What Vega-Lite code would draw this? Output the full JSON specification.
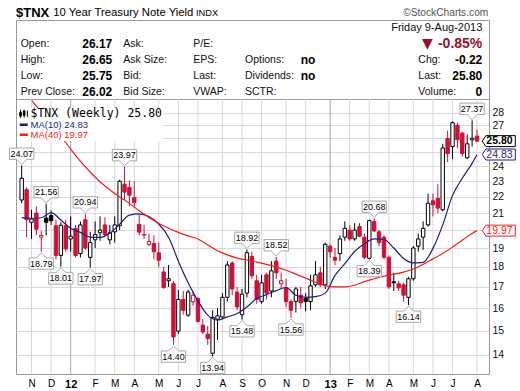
{
"$schema": "https://vega.github.io/schema/vega-lite/v6.json",
"width": 473, "height": 354,
"autosize": {"type": "none"},
"padding": {"left": 16, "top": 20, "right": 31, "bottom": 17},
"background": "white",
"config": {"view": {"stroke": "#9a9a9a", "strokeWidth": 1}, "font": "Liberation Sans"},
"datasets": {
"ohlc": [
{"d":"2011-10-24","o":21.8,"h":24.07,"l":21.6,"c":23.2},
{"d":"2011-10-31","o":22.45,"h":22.6,"l":19.6,"c":20.6},
{"d":"2011-11-07","o":20.45,"h":21.2,"l":19.5,"c":20.65},
{"d":"2011-11-14","o":21.0,"h":21.4,"l":19.7,"c":20.05},
{"d":"2011-11-21","o":19.6,"h":19.95,"l":18.79,"c":19.7},
{"d":"2011-11-28","o":20.7,"h":21.56,"l":19.7,"c":20.45},
{"d":"2011-12-05","o":20.85,"h":21.15,"l":20.3,"c":20.55},
{"d":"2011-12-12","o":20.25,"h":20.6,"l":18.4,"c":18.6},
{"d":"2011-12-19","o":18.6,"h":20.45,"l":18.01,"c":20.28},
{"d":"2011-12-26","o":20.25,"h":20.6,"l":18.8,"c":18.95},
{"d":"2012-01-02","o":19.5,"h":20.8,"l":18.8,"c":19.65},
{"d":"2012-01-09","o":20.1,"h":20.3,"l":18.5,"c":18.6},
{"d":"2012-01-16","o":18.7,"h":20.5,"l":18.5,"c":20.3},
{"d":"2012-01-23","o":20.6,"h":20.94,"l":18.9,"c":19.0},
{"d":"2012-01-30","o":18.5,"h":19.9,"l":17.97,"c":19.3},
{"d":"2012-02-06","o":19.45,"h":20.5,"l":19.0,"c":19.75},
{"d":"2012-02-13","o":19.85,"h":20.8,"l":19.4,"c":20.0},
{"d":"2012-02-20","o":20.3,"h":20.75,"l":19.6,"c":19.75},
{"d":"2012-02-27","o":19.45,"h":20.3,"l":19.2,"c":19.85},
{"d":"2012-03-05","o":19.9,"h":20.8,"l":19.3,"c":20.3},
{"d":"2012-03-12","o":20.25,"h":23.1,"l":20.0,"c":23.0},
{"d":"2012-03-19","o":22.8,"h":23.97,"l":21.8,"c":22.3},
{"d":"2012-03-26","o":22.6,"h":23.06,"l":21.4,"c":22.1},
{"d":"2012-04-02","o":21.95,"h":23.0,"l":21.35,"c":21.65},
{"d":"2012-04-09","o":20.33,"h":20.9,"l":19.7,"c":19.88},
{"d":"2012-04-16","o":19.75,"h":20.3,"l":19.5,"c":19.72},
{"d":"2012-04-23","o":19.2,"h":19.8,"l":19.1,"c":19.36},
{"d":"2012-04-30","o":19.25,"h":19.7,"l":18.4,"c":18.8},
{"d":"2012-05-07","o":18.74,"h":19.3,"l":18.0,"c":18.35},
{"d":"2012-05-14","o":17.74,"h":18.0,"l":16.9,"c":16.97},
{"d":"2012-05-21","o":17.3,"h":18.1,"l":17.0,"c":17.4},
{"d":"2012-05-28","o":17.16,"h":17.3,"l":14.4,"c":14.73},
{"d":"2012-06-04","o":14.98,"h":16.85,"l":14.85,"c":16.4},
{"d":"2012-06-11","o":16.4,"h":16.8,"l":15.7,"c":15.9},
{"d":"2012-06-18","o":15.68,"h":16.86,"l":15.6,"c":16.75},
{"d":"2012-06-25","o":16.29,"h":16.8,"l":16.1,"c":16.6},
{"d":"2012-07-02","o":16.45,"h":16.5,"l":15.35,"c":15.4},
{"d":"2012-07-09","o":15.24,"h":15.5,"l":14.85,"c":14.94},
{"d":"2012-07-16","o":14.85,"h":15.2,"l":14.4,"c":14.66},
{"d":"2012-07-23","o":14.06,"h":15.9,"l":13.94,"c":15.58},
{"d":"2012-07-30","o":15.5,"h":16.0,"l":14.6,"c":15.65},
{"d":"2012-08-06","o":15.6,"h":16.7,"l":15.5,"c":16.5},
{"d":"2012-08-13","o":16.5,"h":18.3,"l":16.3,"c":18.1},
{"d":"2012-08-20","o":18.2,"h":18.3,"l":16.6,"c":16.9},
{"d":"2012-08-27","o":16.75,"h":17.0,"l":15.9,"c":16.05},
{"d":"2012-09-03","o":15.7,"h":16.9,"l":15.48,"c":16.65},
{"d":"2012-09-10","o":16.7,"h":18.92,"l":16.5,"c":18.75},
{"d":"2012-09-17","o":18.55,"h":18.8,"l":17.4,"c":17.55},
{"d":"2012-09-24","o":17.3,"h":17.6,"l":16.2,"c":16.4},
{"d":"2012-10-01","o":16.3,"h":17.6,"l":16.2,"c":17.2},
{"d":"2012-10-08","o":17.6,"h":17.7,"l":16.4,"c":16.7},
{"d":"2012-10-15","o":16.8,"h":18.3,"l":16.5,"c":17.8},
{"d":"2012-10-22","o":18.3,"h":18.52,"l":17.4,"c":17.7},
{"d":"2012-10-29","o":17.15,"h":17.7,"l":16.9,"c":17.3},
{"d":"2012-11-05","o":16.95,"h":17.4,"l":16.05,"c":16.3},
{"d":"2012-11-12","o":16.3,"h":16.4,"l":15.56,"c":15.9},
{"d":"2012-11-19","o":16.3,"h":17.0,"l":15.8,"c":16.9},
{"d":"2012-11-26","o":16.6,"h":17.0,"l":16.0,"c":16.25},
{"d":"2012-12-03","o":16.45,"h":16.7,"l":15.85,"c":16.3},
{"d":"2012-12-10","o":16.3,"h":17.6,"l":15.9,"c":17.05},
{"d":"2012-12-17","o":17.1,"h":18.3,"l":17.0,"c":17.6},
{"d":"2012-12-24","o":17.7,"h":18.0,"l":17.0,"c":17.1},
{"d":"2012-12-31","o":17.1,"h":19.3,"l":16.9,"c":19.2},
{"d":"2013-01-07","o":19.1,"h":19.2,"l":18.5,"c":18.8},
{"d":"2013-01-14","o":18.5,"h":19.0,"l":18.1,"c":18.35},
{"d":"2013-01-21","o":18.7,"h":19.7,"l":18.3,"c":19.5},
{"d":"2013-01-28","o":19.6,"h":20.5,"l":19.4,"c":20.1},
{"d":"2013-02-04","o":20.0,"h":20.3,"l":19.4,"c":19.5},
{"d":"2013-02-11","o":19.5,"h":20.4,"l":19.4,"c":20.0},
{"d":"2013-02-18","o":20.2,"h":20.4,"l":19.6,"c":19.65},
{"d":"2013-02-25","o":19.6,"h":19.8,"l":18.4,"c":18.5},
{"d":"2013-03-04","o":18.45,"h":20.6,"l":18.39,"c":20.55},
{"d":"2013-03-11","o":20.5,"h":20.68,"l":19.9,"c":19.95},
{"d":"2013-03-18","o":19.9,"h":20.0,"l":19.1,"c":19.3},
{"d":"2013-03-25","o":19.6,"h":19.7,"l":18.4,"c":18.5},
{"d":"2013-04-01","o":18.5,"h":18.6,"l":16.9,"c":17.0},
{"d":"2013-04-08","o":17.25,"h":17.7,"l":16.8,"c":17.2},
{"d":"2013-04-15","o":17.15,"h":17.3,"l":16.8,"c":16.95},
{"d":"2013-04-22","o":17.1,"h":17.2,"l":16.3,"c":16.6},
{"d":"2013-04-29","o":16.5,"h":17.5,"l":16.14,"c":17.4},
{"d":"2013-05-06","o":17.4,"h":19.1,"l":17.3,"c":19.0},
{"d":"2013-05-13","o":19.1,"h":19.8,"l":18.8,"c":19.5},
{"d":"2013-05-20","o":19.6,"h":20.5,"l":18.9,"c":20.1},
{"d":"2013-05-27","o":20.3,"h":22.2,"l":20.2,"c":21.6},
{"d":"2013-06-03","o":21.75,"h":22.2,"l":20.8,"c":21.5},
{"d":"2013-06-10","o":21.9,"h":22.8,"l":21.0,"c":21.3},
{"d":"2013-06-17","o":21.2,"h":25.6,"l":21.1,"c":25.3},
{"d":"2013-06-24","o":26.0,"h":26.6,"l":24.3,"c":24.9},
{"d":"2013-07-01","o":25.4,"h":27.3,"l":24.5,"c":27.2},
{"d":"2013-07-08","o":27.0,"h":27.2,"l":25.3,"c":25.9},
{"d":"2013-07-15","o":26.4,"h":26.5,"l":24.7,"c":24.9},
{"d":"2013-07-22","o":24.6,"h":26.3,"l":24.5,"c":25.6},
{"d":"2013-07-29","o":25.9,"h":27.37,"l":25.4,"c":26.02},
{"d":"2013-08-05","o":26.17,"h":26.65,"l":25.75,"c":25.8}
],
"ma": [
{"d":"2011-10-24","ma10":20.73},
{"d":"2011-11-07","ma10":20.69,"ma40":29.0},
{"d":"2011-11-21","ma10":20.72,"ma40":28.04},
{"d":"2011-12-05","ma10":21.02,"ma40":27.09},
{"d":"2011-12-19","ma10":20.59,"ma40":26.16},
{"d":"2012-01-02","ma10":20.1,"ma40":25.22},
{"d":"2012-01-16","ma10":19.87,"ma40":24.35},
{"d":"2012-01-30","ma10":19.6,"ma40":23.62},
{"d":"2012-02-13","ma10":19.59,"ma40":22.97},
{"d":"2012-02-27","ma10":19.82,"ma40":22.45},
{"d":"2012-03-12","ma10":20.34,"ma40":21.99},
{"d":"2012-03-26","ma10":20.88,"ma40":21.59},
{"d":"2012-04-09","ma10":20.95,"ma40":21.14},
{"d":"2012-04-23","ma10":20.79,"ma40":20.73},
{"d":"2012-05-07","ma10":20.35,"ma40":20.38},
{"d":"2012-05-21","ma10":19.6,"ma40":20.11},
{"d":"2012-06-04","ma10":18.3,"ma40":19.87},
{"d":"2012-06-18","ma10":17.2,"ma40":19.67},
{"d":"2012-07-02","ma10":16.33,"ma40":19.5},
{"d":"2012-07-16","ma10":15.68,"ma40":19.17},
{"d":"2012-07-30","ma10":15.46,"ma40":18.85},
{"d":"2012-08-13","ma10":15.6,"ma40":18.63},
{"d":"2012-08-27","ma10":15.75,"ma40":18.46},
{"d":"2012-09-10","ma10":16.05,"ma40":18.36},
{"d":"2012-09-24","ma10":16.44,"ma40":18.25},
{"d":"2012-10-08","ma10":16.63,"ma40":18.13},
{"d":"2012-10-22","ma10":16.82,"ma40":17.99},
{"d":"2012-11-05","ma10":16.97,"ma40":17.83},
{"d":"2012-11-19","ma10":16.6,"ma40":17.63},
{"d":"2012-12-03","ma10":16.5,"ma40":17.43},
{"d":"2012-12-17","ma10":16.53,"ma40":17.23},
{"d":"2012-12-31","ma10":16.7,"ma40":17.06},
{"d":"2013-01-14","ma10":17.57,"ma40":17.0},
{"d":"2013-01-28","ma10":18.17,"ma40":17.0},
{"d":"2013-02-11","ma10":18.81,"ma40":17.08},
{"d":"2013-02-25","ma10":19.23,"ma40":17.26},
{"d":"2013-03-11","ma10":19.5,"ma40":17.4},
{"d":"2013-03-25","ma10":19.47,"ma40":17.53},
{"d":"2013-04-08","ma10":19.0,"ma40":17.63},
{"d":"2013-04-22","ma10":18.44,"ma40":17.73},
{"d":"2013-05-06","ma10":18.21,"ma40":17.89},
{"d":"2013-05-20","ma10":18.24,"ma40":18.14},
{"d":"2013-06-03","ma10":18.98,"ma40":18.42},
{"d":"2013-06-17","ma10":20.3,"ma40":18.7},
{"d":"2013-07-01","ma10":22.09,"ma40":19.05},
{"d":"2013-07-15","ma10":23.2,"ma40":19.44},
{"d":"2013-07-29","ma10":24.21,"ma40":19.81},
{"d":"2013-08-05","ma10":24.83,"ma40":19.97}
],
"months": [
{"d":"2011-11-07"},{"d":"2011-12-05"},{"d":"2012-01-02"},{"d":"2012-02-06"},{"d":"2012-03-05"},{"d":"2012-04-02"},{"d":"2012-05-07"},{"d":"2012-06-04"},{"d":"2012-07-02"},{"d":"2012-08-06"},{"d":"2012-09-03"},{"d":"2012-10-01"},{"d":"2012-11-05"},{"d":"2012-12-03"},{"d":"2013-01-07"},{"d":"2013-02-04"},{"d":"2013-03-04"},{"d":"2013-04-01"},{"d":"2013-05-06"},{"d":"2013-06-03"},{"d":"2013-07-01"},{"d":"2013-08-05"}
],
"notes": [
{"d":"2011-10-24","v":24.07,"p":"hi"},{"d":"2011-11-28","v":21.56,"p":"hi"},{"d":"2011-11-21","v":18.79,"p":"lo"},{"d":"2012-01-23","v":20.94,"p":"hi"},{"d":"2011-12-19","v":18.01,"p":"lo"},{"d":"2012-01-30","v":17.97,"p":"lo"},{"d":"2012-03-19","v":23.97,"p":"hi"},{"d":"2012-05-28","v":14.40,"p":"lo"},{"d":"2012-07-23","v":13.94,"p":"lo"},{"d":"2012-09-10","v":18.92,"p":"hi"},{"d":"2012-09-03","v":15.48,"p":"lo"},{"d":"2012-10-22","v":18.52,"p":"hi"},{"d":"2012-11-12","v":15.56,"p":"lo"},{"d":"2013-03-11","v":20.68,"p":"hi"},{"d":"2013-03-04","v":18.39,"p":"lo"},{"d":"2013-04-29","v":16.14,"p":"lo"},{"d":"2013-07-29","v":27.37,"p":"hi"}
],
"tags": [
{"d":"2013-08-05","v":25.80,"k":"tnx"},{"d":"2013-08-05","v":24.83,"k":"ma10"},{"d":"2013-08-05","v":19.97,"k":"ma40"}
],
"hdr": [
{"col":0,"row":0,"t":"$TNX","k":"sym"},
{"col":2,"row":0,"t":"10 Year Treasury Note Yield","k":"name"},
{"col":6,"row":0,"t":"INDX","k":"ex"},
{"col":12,"row":0,"t":"©StockCharts.com","k":"credit"},
{"col":11,"row":1,"t":"Friday  9-Aug-2013","k":"date"},
{"col":1,"row":2,"t":"Open:","k":"lab"},{"col":3,"row":2,"t":"26.17","k":"val"},{"col":4,"row":2,"t":"Ask:","k":"lab"},{"col":5,"row":2,"t":"P/E:","k":"lab"},{"col":10,"row":2,"t":"▼","k":"tri"},{"col":11,"row":2,"t":"-0.85%","k":"chg"},
{"col":1,"row":3,"t":"High:","k":"lab"},{"col":3,"row":3,"t":"26.65","k":"val"},{"col":4,"row":3,"t":"Ask Size:","k":"lab"},{"col":5,"row":3,"t":"EPS:","k":"lab"},{"col":7,"row":3,"t":"Options:","k":"lab"},{"col":8,"row":3,"t":"no","k":"no"},{"col":9,"row":3,"t":"Chg:","k":"lab"},{"col":11,"row":3,"t":"-0.22","k":"val"},
{"col":1,"row":4,"t":"Low:","k":"lab"},{"col":3,"row":4,"t":"25.75","k":"val"},{"col":4,"row":4,"t":"Bid:","k":"lab"},{"col":5,"row":4,"t":"Last:","k":"lab"},{"col":7,"row":4,"t":"Dividends:","k":"lab"},{"col":8,"row":4,"t":"no","k":"no"},{"col":9,"row":4,"t":"Last:","k":"lab"},{"col":11,"row":4,"t":"25.80","k":"val"},
{"col":1,"row":5,"t":"Prev Close:","k":"lab"},{"col":3,"row":5,"t":"26.02","k":"val"},{"col":4,"row":5,"t":"Bid Size:","k":"lab"},{"col":5,"row":5,"t":"VWAP:","k":"lab"},{"col":7,"row":5,"t":"SCTR:","k":"lab"},{"col":9,"row":5,"t":"Volume:","k":"lab"},{"col":11,"row":5,"t":"0","k":"val"}
]
},
"resolve": {"scale": {"x": "independent", "y": "independent"}},
"layer": [
{
"encoding": {
"x": {"field": "d", "type": "temporal",
"scale": {"type": "utc", "domain": [1319328000000, 1376524800000], "nice": false},
"axis": {"title": null, "grid": false, "ticks": false, "domain": false, "labelPadding": 4, "labelFontSize": {"condition": {"test": "utcmonth(datum.value) === 0", "value": 11}, "value": 10}, "labelColor": "#000", "labelFontWeight": {"condition": {"test": "utcmonth(datum.value) === 0", "value": "bold"}, "value": "normal"}, "labelOverlap": false, "labelFlush": false, "labelBound": false,
"values": [{"year":2011,"month":11,"date":7,"utc":true},{"year":2011,"month":12,"date":5,"utc":true},{"year":2012,"month":1,"date":2,"utc":true},{"year":2012,"month":2,"date":6,"utc":true},{"year":2012,"month":3,"date":5,"utc":true},{"year":2012,"month":4,"date":2,"utc":true},{"year":2012,"month":5,"date":7,"utc":true},{"year":2012,"month":6,"date":4,"utc":true},{"year":2012,"month":7,"date":2,"utc":true},{"year":2012,"month":8,"date":6,"utc":true},{"year":2012,"month":9,"date":3,"utc":true},{"year":2012,"month":10,"date":1,"utc":true},{"year":2012,"month":11,"date":5,"utc":true},{"year":2012,"month":12,"date":3,"utc":true},{"year":2013,"month":1,"date":7,"utc":true},{"year":2013,"month":2,"date":4,"utc":true},{"year":2013,"month":3,"date":4,"utc":true},{"year":2013,"month":4,"date":1,"utc":true},{"year":2013,"month":5,"date":6,"utc":true},{"year":2013,"month":6,"date":3,"utc":true},{"year":2013,"month":7,"date":1,"utc":true},{"year":2013,"month":8,"date":5,"utc":true}],
"labelExpr": "utcmonth(datum.value) === 0 ? utcFormat(datum.value, '%y') : slice(utcFormat(datum.value, '%b'), 0, 1)"}}
},
"layer": [
{"data": {"name": "months"},
 "mark": {"type": "rule", "strokeWidth": 1},
 "encoding": {
  "y": {"datum": 13.249, "type": "quantitative", "scale": {"type": "log", "domain": [13.249, 29.105], "range": [354, 79], "nice": false}},
  "y2": {"datum": 29.105},
  "stroke": {"condition": {"test": "utcmonth(datum.d) === 0", "value": "#a8a8a8"}, "value": "#d9d9d9"}
 }},
{"data": {"name": "ohlc"},
 "transform": [{"window": [{"op": "lag", "field": "c", "as": "pc"}], "sort": [{"field": "d"}]}],
 "mark": {"type": "rule", "strokeWidth": 1, "clip": true},
 "encoding": {
  "y": {"field": "l", "type": "quantitative", "scale": {"type": "log", "domain": [13.249, 29.105], "range": [354, 79], "nice": false},
   "axis": {"orient": "right", "title": null, "values": [14,15,16,17,18,19,20,21,22,23,24,25,26,27,28,29.105], "grid": true, "gridColor": {"condition": {"test": "datum.value > 29", "value": "#9a9a9a"}, "value": "#d9d9d9"}, "ticks": false, "domain": false, "labelPadding": 3, "labelFontSize": 10.5, "labelColor": "#111", "labelOverlap": false, "labelBound": false, "labelFlush": false, "labelExpr": "datum.value > 29 || datum.value == 20 || datum.value == 25 || datum.value == 26 ? '' : format(datum.value, 'd')"}},
  "y2": {"field": "h"},
  "stroke": {"condition": {"test": "isValid(datum.pc) && datum.c < datum.pc", "value": "#d0103a"}, "value": "#000000"}
 }},
{"data": {"name": "ohlc"},
 "transform": [{"window": [{"op": "lag", "field": "c", "as": "pc"}], "sort": [{"field": "d"}]}],
 "mark": {"type": "bar", "width": 3.4, "strokeWidth": 1, "clip": true},
 "encoding": {
  "y": {"field": "o", "type": "quantitative", "scale": {"type": "log", "domain": [13.249, 29.105], "range": [354, 79], "nice": false}},
  "y2": {"field": "c"},
  "stroke": {"condition": {"test": "isValid(datum.pc) && datum.c < datum.pc", "value": "#d0103a"}, "value": "#000000"},
  "fill": {"condition": [{"test": "datum.c > datum.o", "value": "#ffffff"}, {"test": "isValid(datum.pc) && datum.c < datum.pc", "value": "#d0103a"}], "value": "#000000"}
 }},
{"data": {"name": "ma"},
 "transform": [{"fold": ["ma10", "ma40"], "as": ["k", "v"]}, {"filter": "isValid(datum.v)"}],
 "mark": {"type": "line", "strokeWidth": 1.2, "interpolate": "monotone"},
 "encoding": {
  "y": {"field": "v", "type": "quantitative", "scale": {"type": "log", "domain": [13.249, 29.105], "range": [354, 79], "nice": false}},
  "color": {"field": "k", "type": "nominal", "scale": {"domain": ["tnx", "ma10", "ma40"], "range": ["#000000", "#1c1c8c", "#ff1a1a"]},
   "legend": {"orient": "none", "legendX": 2, "legendY": 88, "title": null, "fillColor": "#ffffff", "symbolType": "stroke", "symbolStrokeWidth": 2.5, "symbolSize": 64, "labelFont": "Liberation Sans", "labelFontSize": 9.5, "labelOffset": 2, "rowPadding": -2, "padding": 1,
    "labelExpr": "datum.label == 'tnx' ? '$TNX (Weekly) 25.80' : datum.label == 'ma10' ? 'MA(10) 24.83' : 'MA(40) 19.97'",
    "encode": {
     "labels": {"update": {"fill": {"signal": "datum.value == 'tnx' ? '#000000' : datum.value == 'ma10' ? '#1c1c8c' : '#ff1a1a'"}, "font": {"signal": "datum.value == 'tnx' ? 'DejaVu Sans Mono' : 'Liberation Sans'"}, "fontSize": {"signal": "datum.value == 'tnx' ? 11.5 : 9.5"}}},
     "symbols": {"update": {"shape": {"signal": "datum.value == 'tnx' ? 'M-0.8,-1V1M-1,-0.4H-0.6V0.6H-1ZM0.1,-1V1M-0.1,-0.7H0.3V0.4H-0.1ZM0.9,-0.8V0.8' : 'stroke'"}, "strokeWidth": {"signal": "datum.value == 'tnx' ? 1 : 2.5"}}}
    }}}
 }},
{"data": {"name": "notes"},
 "mark": {"type": "point", "filled": true, "fill": "#ffffff", "stroke": "#a8a8a8", "strokeWidth": 1, "size": 784, "opacity": 1},
 "encoding": {
  "y": {"field": "v", "type": "quantitative", "scale": {"type": "log", "domain": [13.249, 29.105], "range": [354, 79], "nice": false}},
  "shape": {"field": "p", "type": "nominal", "scale": {"domain": ["hi", "lo"], "range": ["M0,-0.07L-0.36,-0.43H-0.87V-1.24H0.87V-0.43H0.36Z", "M0,0.07L-0.36,0.43H-0.87V1.24H0.87V0.43H0.36Z"]}, "legend": null}
 }},
{"data": {"name": "notes"},
 "transform": [{"filter": "datum.p == 'hi'"}],
 "mark": {"type": "text", "dy": -11.7, "fontSize": 9, "baseline": "middle", "align": "center", "color": "#000"},
 "encoding": {
  "y": {"field": "v", "type": "quantitative", "scale": {"type": "log", "domain": [13.249, 29.105], "range": [354, 79], "nice": false}},
  "text": {"field": "v", "type": "quantitative", "format": ".2f"}
 }},
{"data": {"name": "notes"},
 "transform": [{"filter": "datum.p == 'lo'"}],
 "mark": {"type": "text", "dy": 11.7, "fontSize": 9, "baseline": "middle", "align": "center", "color": "#000"},
 "encoding": {
  "y": {"field": "v", "type": "quantitative", "scale": {"type": "log", "domain": [13.249, 29.105], "range": [354, 79], "nice": false}},
  "text": {"field": "v", "type": "quantitative", "format": ".2f"}
 }},
{"data": {"name": "tags"},
 "mark": {"type": "point", "filled": true, "fill": "#ffffff", "strokeWidth": 1, "size": 1089, "xOffset": 21.8, "opacity": 1, "shape": "M-1,0L-0.78,-0.333H1V0.333H-0.78Z"},
 "encoding": {
  "y": {"field": "v", "type": "quantitative", "scale": {"type": "log", "domain": [13.249, 29.105], "range": [354, 79], "nice": false}},
  "stroke": {"field": "k", "type": "nominal", "scale": {"domain": ["tnx", "ma10", "ma40"], "range": ["#000000", "#1c1c8c", "#ff1a1a"]}, "legend": null}
 }},
{"data": {"name": "tags"},
 "transform": [{"filter": "datum.k == 'tnx'"}],
 "mark": {"type": "text", "dx": 22.5, "fontSize": 10.5, "fontWeight": "bold", "baseline": "middle", "align": "center"},
 "encoding": {
  "y": {"field": "v", "type": "quantitative", "scale": {"type": "log", "domain": [13.249, 29.105], "range": [354, 79], "nice": false}},
  "text": {"field": "v", "type": "quantitative", "format": ".2f"},
  "color": {"field": "k", "type": "nominal", "scale": {"domain": ["tnx", "ma10", "ma40"], "range": ["#000000", "#1c1c8c", "#ff1a1a"]}, "legend": null}
 }},
{"data": {"name": "tags"},
 "transform": [{"filter": "datum.k != 'tnx'"}],
 "mark": {"type": "text", "dx": 22.5, "fontSize": 10.5, "baseline": "middle", "align": "center"},
 "encoding": {
  "y": {"field": "v", "type": "quantitative", "scale": {"type": "log", "domain": [13.249, 29.105], "range": [354, 79], "nice": false}},
  "text": {"field": "v", "type": "quantitative", "format": ".2f"},
  "color": {"field": "k", "type": "nominal", "scale": {"domain": ["tnx", "ma10", "ma40"], "range": ["#000000", "#1c1c8c", "#ff1a1a"]}, "legend": null}
 }}
]
},
{
"data": {"name": "hdr"},
"encoding": {
 "x": {"field": "col", "type": "quantitative", "scale": {"domain": [0,1,2,3,4,5,6,7,8,9,10,11,12], "range": [0,4.7,37.3,96.3,107.3,177.3,180,229,284.7,402.3,411.3,466.3,472.3], "nice": false, "zero": false}, "axis": null},
 "y": {"field": "row", "type": "quantitative", "scale": {"domain": [0, 5], "range": [-7.5, 71.5], "nice": false, "zero": false}, "axis": null},
 "text": {"field": "t", "type": "nominal"}
},
"layer": [
 {"transform": [{"filter": "datum.k == 'lab'"}], "mark": {"type": "text", "align": "left", "baseline": "middle", "fontSize": 10.5, "color": "#111"}},
 {"transform": [{"filter": "datum.k == 'val'"}], "mark": {"type": "text", "align": "right", "baseline": "middle", "fontSize": 12, "fontWeight": "bold", "color": "#000"}},
 {"transform": [{"filter": "datum.k == 'no'"}], "mark": {"type": "text", "align": "left", "baseline": "middle", "fontSize": 12, "fontWeight": "bold", "color": "#000"}},
 {"transform": [{"filter": "datum.k == 'date'"}], "mark": {"type": "text", "align": "right", "baseline": "middle", "fontSize": 11, "color": "#111"}},
 {"transform": [{"filter": "datum.k == 'chg'"}], "mark": {"type": "text", "align": "right", "baseline": "middle", "fontSize": 14, "fontWeight": "bold", "color": "#99102e"}},
 {"transform": [{"filter": "datum.k == 'tri'"}], "mark": {"type": "text", "align": "center", "baseline": "middle", "fontSize": 14, "font": "DejaVu Sans", "color": "#99102e"}},
 {"transform": [{"filter": "datum.k == 'sym'"}], "mark": {"type": "text", "align": "left", "baseline": "middle", "fontSize": 13, "fontWeight": "bold", "color": "#000"}},
 {"transform": [{"filter": "datum.k == 'name'"}], "mark": {"type": "text", "align": "left", "baseline": "middle", "fontSize": 11.3, "color": "#000"}},
 {"transform": [{"filter": "datum.k == 'ex'"}], "mark": {"type": "text", "align": "left", "baseline": "middle", "fontSize": 9.3, "color": "#000"}},
 {"transform": [{"filter": "datum.k == 'credit'"}], "mark": {"type": "text", "align": "right", "baseline": "middle", "fontSize": 10.2, "color": "#555"}}
]
}
]
}
